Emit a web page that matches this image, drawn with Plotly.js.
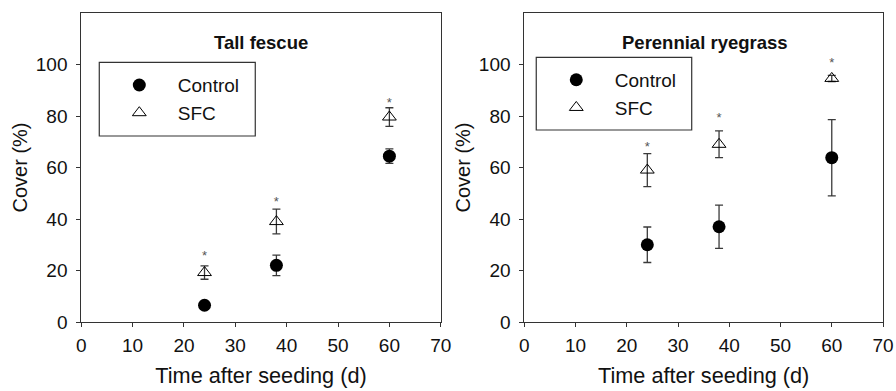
<!DOCTYPE html>
<html>
<head>
<meta charset="utf-8">
<script src="https://cdn.plot.ly/plotly-3.0.1.min.js"></script>
<style>html,body{margin:0;padding:0;background:#fff;}#chart{width:896px;height:391px;}</style>
</head>
<body>
<div id="chart"></div>
<script>
// ---- data ----
var days = [24, 38, 60];
var seriesNames = ['Control', 'SFC'];

// Tall fescue
var tfControl = [6.5, 22.0, 64.4];
var tfControlErr = [1.0, 4.0, 2.8];
var tfSFC = [19.2, 39.0, 79.6];
var tfSFCErr = [2.6, 4.8, 3.6];
var tfSigY = [25.3, 46.3, 84.6];

// Perennial ryegrass
var prControl = [30.0, 37.0, 63.8];
var prControlErr = [6.9, 8.4, 14.8];
var prSFC = [59.0, 69.0, 94.6];
var prSFCErr = [6.4, 5.2, 1.2];
var prSigY = [67.6, 78.9, 100.3];

var panelTitles = ['Tall fescue', 'Perennial ryegrass'];
var xTickVals = [0, 10, 20, 30, 40, 50, 60, 70];
var yTickVals = [0, 20, 40, 60, 80, 100];
var xTitle = 'Time after seeding (d)';
var yTitle = 'Cover (%)';

// ---- styling ----
var FONT = 'Liberation Sans, Arial, sans-serif';
var INK = '#111';
var errStyle = function (arr) {
  return {type: 'data', array: arr, visible: true, color: '#3a3a3a', thickness: 1.3, width: 4};
};
var ctrlMarker = {symbol: 'circle', size: 13, color: '#000', line: {width: 0}};
var sfcMarker = {symbol: 'triangle-up-open', size: 12, color: '#000', line: {width: 1, color: '#000'}};

function panel(xa, ya, ctrl, ctrlErr, sfc, sfcErr, sigY, legendId) {
  return [
    {x: days, y: ctrl, error_y: errStyle(ctrlErr), type: 'scatter', mode: 'markers',
     name: seriesNames[0], marker: ctrlMarker, xaxis: xa, yaxis: ya, legend: legendId, cliponaxis: false},
    {x: days, y: sfc, error_y: errStyle(sfcErr), type: 'scatter', mode: 'markers',
     name: seriesNames[1], marker: sfcMarker, xaxis: xa, yaxis: ya, legend: legendId, cliponaxis: false},
    {x: days, y: sigY, text: days.map(function () { return '*'; }), type: 'scatter', mode: 'text',
     textposition: 'middle center', textfont: {family: FONT, size: 13, color: '#555'},
     showlegend: false, hoverinfo: 'skip', xaxis: xa, yaxis: ya, cliponaxis: false}
  ];
}

var traces = [].concat(
  panel('x', 'y', tfControl, tfControlErr, tfSFC, tfSFCErr, tfSigY, 'legend'),
  panel('x2', 'y2', prControl, prControlErr, prSFC, prSFCErr, prSigY, 'legend2')
);

function xAxis(domain, anchor) {
  return {
    domain: domain, anchor: anchor, range: [0, 70], tickmode: 'array', tickvals: xTickVals,
    showgrid: false, zeroline: false, showline: true, mirror: true, linecolor: '#333', linewidth: 1,
    ticks: 'outside', ticklen: 4, tickwidth: 1, tickcolor: '#333', ticklabelstandoff: 2,
    tickfont: {family: FONT, size: 19, color: INK},
    title: {text: xTitle, font: {family: FONT, size: 21.7, color: INK}, standoff: 13},
    fixedrange: true
  };
}
function yAxis(anchor) {
  return {
    domain: [0, 1], anchor: anchor, range: [0, 120], tickmode: 'array', tickvals: yTickVals,
    showgrid: false, zeroline: false, showline: true, mirror: true, linecolor: '#333', linewidth: 1,
    ticks: 'outside', ticklen: 4, tickwidth: 1, tickcolor: '#333', ticklabelstandoff: 5,
    tickfont: {family: FONT, size: 19, color: INK},
    title: {text: yTitle, font: {family: FONT, size: 20, color: INK}, standoff: 2},
    fixedrange: true
  };
}

function legendBox(x, y) {
  return {x: x, y: y, xanchor: 'left', yanchor: 'top', bgcolor: 'rgba(0,0,0,0)', borderwidth: 0,
          itemwidth: 67, font: {family: FONT, size: 19, color: INK}, traceorder: 'normal'};
}

var layout = {
  width: 896, height: 391,
  margin: {l: 0, r: 0, t: 13, b: 69, pad: 0},
  paper_bgcolor: '#fff', plot_bgcolor: '#fff',
  font: {family: FONT, color: INK},
  showlegend: true,
  xaxis: xAxis([0.0907, 0.4919], 'y'),
  yaxis: yAxis('x'),
  xaxis2: xAxis([0.5852, 0.9855], 'y2'),
  yaxis2: yAxis('x2'),
  legend: legendBox(0.1125, 0.828),
  legend2: legendBox(0.6002, 0.845),
  shapes: [
    {type: 'rect', xref: 'paper', yref: 'paper', x0: 0.1108, x1: 0.2849, y0: 0.6019, y1: 0.8405,
     line: {color: '#333', width: 1.2}, fillcolor: 'rgba(0,0,0,0)'},
    {type: 'rect', xref: 'paper', yref: 'paper', x0: 0.5985, x1: 0.7720, y0: 0.6214, y1: 0.8566,
     line: {color: '#333', width: 1.2}, fillcolor: 'rgba(0,0,0,0)'}
  ],
  annotations: [
    {text: '<b>' + panelTitles[0] + '</b>', xref: 'x domain', yref: 'y domain', x: 0.5, y: 0.903,
     xanchor: 'center', yanchor: 'middle', showarrow: false, font: {family: FONT, size: 18.5, color: INK}},
    {text: '<b>' + panelTitles[1] + '</b>', xref: 'x2 domain', yref: 'y2 domain', x: 0.503, y: 0.903,
     xanchor: 'center', yanchor: 'middle', showarrow: false, font: {family: FONT, size: 18.5, color: INK}}
  ]
};

Plotly.newPlot('chart', traces, layout, {staticPlot: true, displayModeBar: false});
</script>
</body>
</html>
